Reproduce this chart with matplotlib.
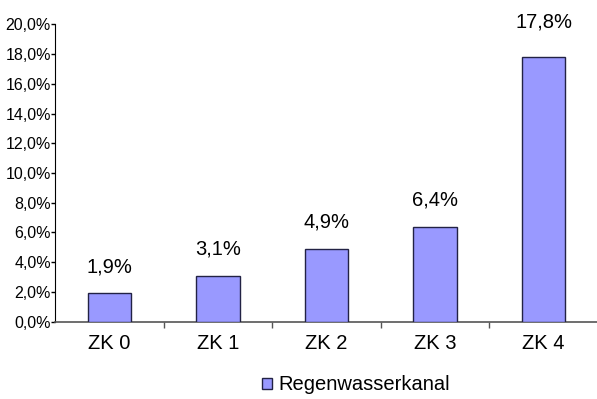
import matplotlib
matplotlib.use("Agg")
import matplotlib.pyplot as plt
import numpy as np
from matplotlib.ticker import FixedLocator, FuncFormatter

plt.rcParams['font.family'] = ['Liberation Sans', 'DejaVu Sans']

# Daten
kategorien = ['ZK 0', 'ZK 1', 'ZK 2', 'ZK 3', 'ZK 4']
anteile = [1.9, 3.1, 4.9, 6.4, 17.8]
serie = 'Regenwasserkanal'
y_ticks = [0, 2, 4, 6, 8, 10, 12, 14, 16, 18, 20]

# Abstand der Beschriftung über dem Balken (Pixel)
label_abstand = [21, 21, 21, 21, 30]

fill = '#9999FF'
edge = '#222244'

fig = plt.figure(figsize=(5.97, 3.99), dpi=100)
ax = fig.add_axes([55 / 597, 1 - 321.7 / 399, 543 / 597, (321.7 - 24.3) / 399])

x = np.arange(len(kategorien))
bars = ax.bar(x, anteile, width=0.4, color=fill, edgecolor=edge, linewidth=1.0,
              label=serie, zorder=3)

for xi, v, off in zip(x, anteile, label_abstand):
    ax.annotate(f"{v:.1f}%".replace('.', ','), (xi, v), xytext=(0, off * 72 / 100),
                textcoords='offset points', ha='center', va='baseline',
                fontsize=14.5, color='black')

ax.set_xlim(-0.5, len(kategorien) - 0.5)
ax.set_ylim(0, 20)

ax.set_yticks(y_ticks)
ax.yaxis.set_major_formatter(FuncFormatter(lambda v, p: f"{v:.1f}%".replace('.', ',')))
ax.tick_params(axis='y', direction='out', length=3, width=1, labelsize=11.5, pad=0)

ax.set_xticks(x)
ax.set_xticklabels(kategorien, fontsize=14.5)
ax.tick_params(axis='x', which='major', length=0, pad=9)
ax.xaxis.set_minor_locator(FixedLocator(np.arange(0.5, len(kategorien) - 0.5, 1)))
ax.tick_params(axis='x', which='minor', direction='out', length=4, width=1, color='#555555')

for s in ['top', 'right']:
    ax.spines[s].set_visible(False)
ax.spines['left'].set_color('black')
ax.spines['bottom'].set_color('#555555')
ax.spines['bottom'].set_linewidth(1.2)

fig.legend(handles=[bars], labels=[serie], loc='center', bbox_to_anchor=(356 / 597, 1 - 385 / 399),
           frameon=False, fontsize=14.5, handlelength=0.5, handleheight=0.5,
           handletextpad=0.3, borderpad=0)

fig.savefig('out.png', dpi=100)
